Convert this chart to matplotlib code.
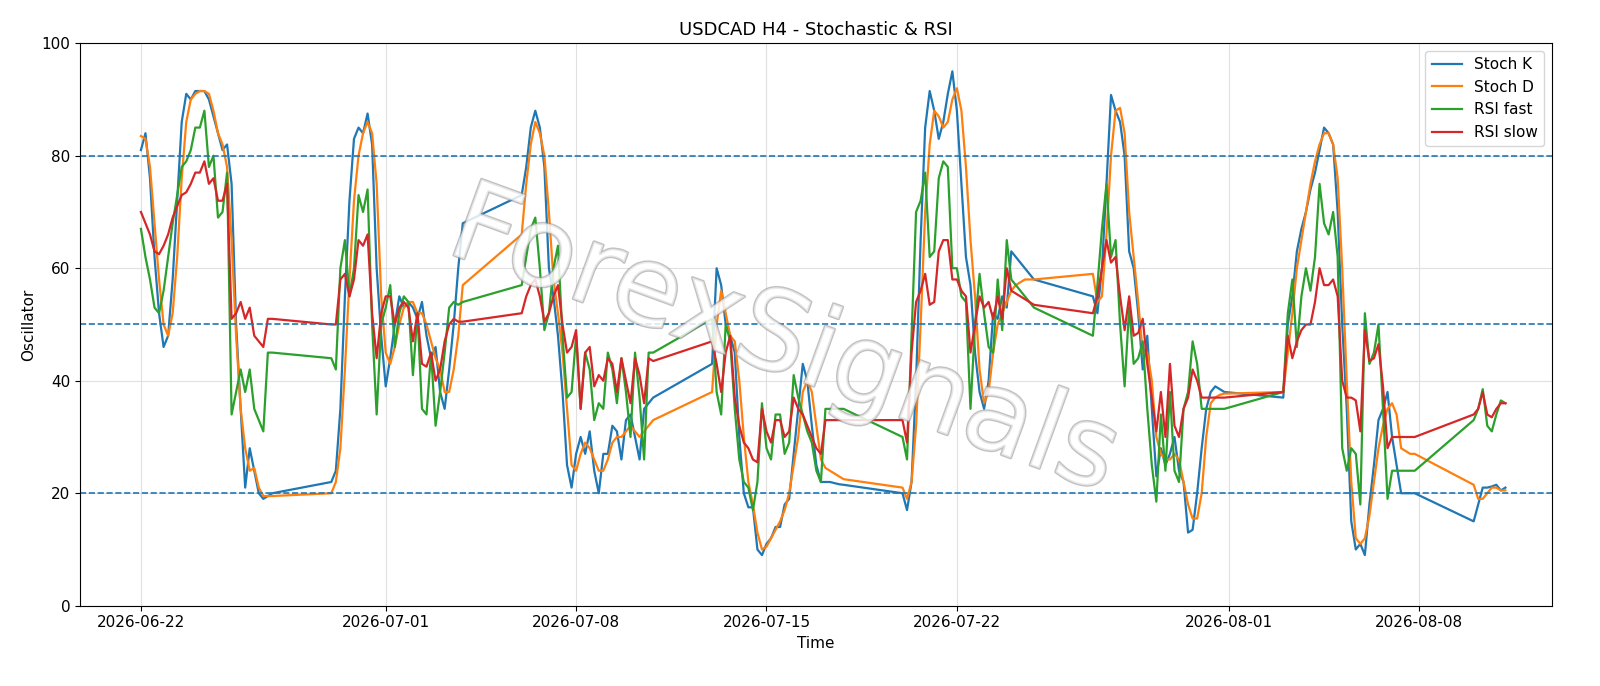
import matplotlib
matplotlib.use("Agg")
import matplotlib.pyplot as plt
import matplotlib.patheffects as pe
import pandas as pd
import numpy as np

week_starts = ["2026-06-22","2026-06-29","2026-07-06","2026-07-13","2026-07-20","2026-07-27","2026-08-03","2026-08-10"]

stoch_k = [
 [81,84,76,62,52,46,48,58,72,86,91,90,91.5,91.5,91.5,90,87,84,81,82,75,50,35,21,28,24,20,19,19.5,20],
 [22,24,35,55,72,83,85,84,87.5,82,60,48,39,44,50,55,53,54,53,51,54,48,44,46,38,35,42,50,60,68],
 [73,78,85,88,85,78,60,55,48,38,25,21,27,30,27,31,24,20,27,27,32,31,26,33,34,30,26,35,36,37],
 [43,60,57,50,48,45,30,20,17.5,17.5,10,9,11,12,14,14,18,19,27,35,43,40,32,25,22,22,22,21.8,21.6,21.5],
 [20,17,22,40,65,85,91.5,88,83,86,91,95,88,75,62,57,45,38,35,40,52,51,55,53,63,62,61,60,59,58],
 [55,52,60,75,90.8,88,86,80,63,60,52,42,48,35,23,28,25,27,30,24,22,13,13.5,20,28,35,38,39,38.5,38],
 [37,50,55,63,67,70,74,77,81,85,84,82,70,50,35,15,10,11,9,18,25,33,35,38,30,25,20,20,20,20],
 [15,18,21,21,21.2,21.5,20.5,21],
]
stoch_d = [
 [83.5,83,78,68,58,50,48,52,62,76,86,90,91,91.5,91.5,91,88,84,82,78,65,48,35,28,24,24.5,21,19.5,19.5,19.5],
 [20,22,28,42,58,72,80,84,86,84,75,55,45,43,46,50,53,54,54,52,52,50,47,44,42,38,38,42,48,57],
 [66,75,82,86,84,80,70,58,52,45,35,25,24,27,29,28,26,24,24,26,29,30,30,31,32,31,30,31,32,33],
 [38,50,56,52,48,47,40,30,22,18,13,10,10.5,12,13.5,15,17,20,25,30,38,40,38,32,26,24.5,24,23.5,23,22.5],
 [21,19,22,32,50,70,82,88,87,85,86,90,92,88,78,65,55,42,36,38,45,50,52,54,56,57,57.5,58,58,58],
 [59,54,55,66,80,88,88.5,84,70,62,54,45,45,40,30,27,26,26,27,26,22,18,15.5,15.5,20,30,36,37,37.5,37.7],
 [38,45,52,60,65,70,75,79,82,84,84,82,76,60,40,22,12,11,12,16,22,28,32,35,36,34,28,27.5,27,27],
 [21.5,19,19,20,21,21,20.5,20.5],
]
rsi_fast = [
 [67,62,58,53,52,56,62,68,73,78,79,81,85,85,88,78,80,69,70,77,34,38,42,38,42,35,33,31,45,45],
 [44,42,60,65,55,60,73,70,74,50,34,50,53,57,46,52,55,54,41,52,35,34,45,32,38,45,53,54,53.5,54],
 [57,62,67,69,60,49,52,60,64,48,37,38,48,35,45,42,33,36,35,45,42,36,44,38,30,45,37,26,45,45],
 [51,38,34,50,47,35,26,22,21,17,22,36,28,26,34,34,27,29,41,37,34,31,29,24,22,35,35,35,35,35],
 [30,26,48,70,72,77,62,63,76,79,78,60,60,55,54,35,50,59,52,46,45,58,49,65,58,57,56,55,54,53],
 [48,57,67,75,62,65,50,39,53,43,44,47,35,25,18.5,34,24,38,24,22,35,38,47,43,35,35,35,35,35,35],
 [38,52,58,46,55,60,56,62,75,68,66,70,62,28,24,28,27,18,52,43,45,50,35,19,24,24,24,24,24,24],
 [33,35,38.5,32,31,34,36.5,36],
]
rsi_slow = [
 [70,68,66,63,62.5,64,66,69,71,73,73.5,75,77,77,79,75,76,72,72,75,51,52,54,51,53,48,47,46,51,51],
 [50,50,58,59,55,58,65,64,66,52,44,52,55,55,50,53,54,53,47,52,43,42.5,45,40,42,47,50,51,50.5,50.5],
 [52,55,57,58,55,50.5,52,55,57,50,45,46,49,35,45,46,39,41,40,44,43,38,44,40,36,44,41,36,44,43.5],
 [47,43,38,45,48,37,32,29,28,26,25.5,35,31,29,33,33,30,31,37,35,34,32,30,28,27,33,33,33,33,33],
 [33,29,45,54,56,59,53.5,54,63,65,65,58,58,56,55,45,50,55,53,54,51,55,51,60,56,55.5,55,54.5,54,53.5],
 [52,55,60,65,61,62,55,49,55,48,48.5,51,43,37,31,38,30,43,32,30,35,37,42,40,37,37,37,37,37,37],
 [38,48,44,47,49,50,50,54,60,57,57,58,55,40,37,37,36.5,31,49,43.5,44,46.5,39,28,30,30,30,30,30,30],
 [34,35,38,34,33.5,35,36,36],
]

times = []
for ws, vals in zip(week_starts, stoch_k):
    times.extend(pd.Timestamp(ws) + pd.Timedelta(hours=4) * np.arange(len(vals)))
flat = lambda s: [v for w in s for v in w]

fig = plt.figure(figsize=(16, 6.86), dpi=100)
ax = fig.add_axes([0.05, 0.117, 0.92, 0.82])
ax.plot(times, flat(stoch_k), color="#1f77b4", lw=1.6, label="Stoch K")
ax.plot(times, flat(stoch_d), color="#ff7f0e", lw=1.6, label="Stoch D")
ax.plot(times, flat(rsi_fast), color="#2ca02c", lw=1.6, label="RSI fast")
ax.plot(times, flat(rsi_slow), color="#d62728", lw=1.6, label="RSI slow")
for lvl in (20, 50, 80):
    ax.axhline(lvl, color="#1f77b4", ls="--", lw=1.2)
ax.set_ylim(0, 100)
t0 = pd.Timestamp("2026-06-22")
ax.set_xlim(t0 - pd.Timedelta(days=2.24), t0 + pd.Timedelta(days=51.88))
ticks = ["2026-06-22","2026-07-01","2026-07-08","2026-07-15","2026-07-22","2026-08-01","2026-08-08"]
ax.set_xticks([pd.Timestamp(t) for t in ticks])
ax.set_xticklabels(ticks, fontsize=11)
ax.tick_params(axis="y", labelsize=11)
ax.grid(True, color="#e0e0e0", lw=0.8)
ax.set_xlabel("Time", fontsize=11)
ax.set_ylabel("Oscillator", fontsize=11)
ax.set_title("USDCAD H4 - Stochastic & RSI", fontsize=13)
ax.legend(loc="upper right", fontsize=11)
fig.text(0.49, 0.5, "ForexSignals", fontsize=80, rotation=-20, ha="center", va="center",
         color="white", alpha=0.6,
         path_effects=[pe.withStroke(linewidth=2, foreground="#999999")], zorder=0)
fig.savefig("out.png", dpi=100)
